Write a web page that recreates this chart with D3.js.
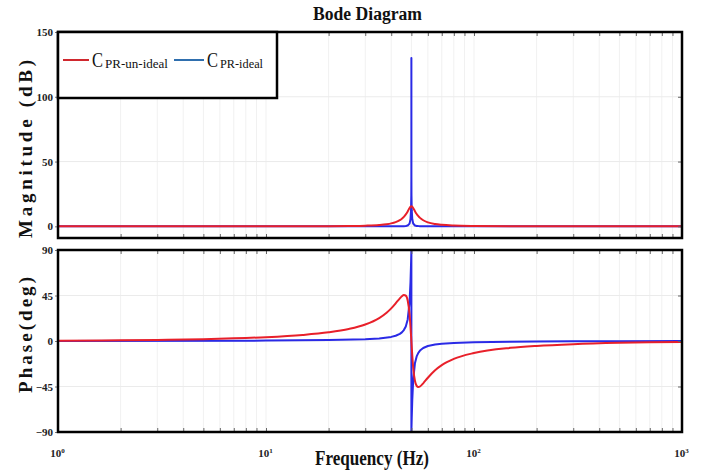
<!DOCTYPE html>
<html><head><meta charset="utf-8">
<script src="https://cdn.jsdelivr.net/npm/d3@7"></script>
<style>body{margin:0;background:#fff}svg{display:block}</style>
</head><body><svg id="c" width="701" height="473"></svg>
<script>
// ---- data ----
const freqRed = [1,2,3,5,7,10,15,20,25,30,35,38,40,42,44,45,46,47,48,49,49.5,50,50.5,51,52,53,54,55,57,60,65,70,80,100,150,200,300,500,700,1000];
const magRed = [0,0,0,0.01,0.01,0.03,0.06,0.14,0.27,0.51,1.02,1.62,2.27,3.26,4.82,5.93,7.36,9.20,11.53,14.14,15.16,15.56,15.17,14.19,11.73,9.56,7.86,6.53,4.68,3.06,1.75,1.14,0.60,0.26,0.07,0.04,0.02,0.01,0,0];
const phaseRed = [0.37,0.73,1.10,1.84,2.60,3.79,5.97,8.57,11.86,16.29,22.67,27.96,32.27,37.17,42.18,44.29,45.52,44.83,40.0,26.37,14.51,0,-14.37,-25.97,-39.34,-44.39,-45.59,-45.0,-41.85,-36.32,-28.90,-23.82,-17.66,-11.86,-6.78,-4.84,-3.12,-1.84,-1.31,-0.91];
const freqBlue = [1,10,20,30,35,40,42,44,45,46,47,48,49,49.5,49.8,49.95,49.99,50,50,50.01,50.05,50.2,50.5,51,52,53,54,55,57,60,65,70,80,100,150,200,300,500,1000];
const magBlue = [0,0,0,0,0.01,0.02,0.04,0.07,0.10,0.15,0.28,0.61,2.10,5.45,12.25,24.05,38.0,130,130,38.0,24.06,12.3,5.51,2.16,0.66,0.31,0.18,0.12,0.06,0.03,0.02,0.01,0,0,0,0,0,0,0];
const phaseBlue = [0.04,0.38,0.87,1.71,2.50,4.05,5.19,7.08,8.57,10.79,14.42,21.29,38.23,57.73,75.87,86.40,89.28,90,-90,-89.28,-86.41,-75.92,-57.98,-38.79,-22.08,-15.27,-11.67,-9.47,-6.91,-4.96,-3.43,-2.66,-1.87,-1.22,-0.68,-0.49,-0.31,-0.18,-0.09];
const magTicks = [0,50,100,150];
const phaseTicks = [-90,-45,0,45,90];
const freqTicks = [1,10,100,1000];
const freqTickExp = ["0","1","2","3"];
const seriesNames = ["PR-un-ideal","PR-ideal"];
const seriesColors = ["#e8202a","#2a2ae6"];
const legendColors = ["#d0282e","#2f6fae"];
const titleText = "Bode Diagram";
const xLabel = "Frequency (Hz)";
const yLabelMag = "Magnitude (dB)";
const yLabelPh = "Phase(deg)";

// ---- drawing ----
const svg = d3.select("#c");
const serif = "'Liberation Serif','DejaVu Serif',serif";
const L = 58, R = 682;
const x = d3.scaleLog().domain([1,1000]).range([L,R]);
const yMag = d3.scaleLinear().domain([-9,150]).range([238,32]);
const yPh = d3.scaleLinear().domain([-90,90]).range([432,250]);

const minor = [];
for (let d=1; d<1000; d*=10) for (let k=1;k<10;k++) minor.push(d*k);
minor.push(1000);

function panel(id, y, ticks, series){
  const top = y.range()[1], bot = y.range()[0];
  const g = svg.append("g");
  g.selectAll(".vg").data(minor).join("line")
    .attr("x1",d=>x(d)).attr("x2",d=>x(d)).attr("y1",top).attr("y2",bot)
    .attr("stroke","#f1f1f1").attr("stroke-width",1);
  g.selectAll(".hg").data(ticks).join("line")
    .attr("x1",L).attr("x2",R).attr("y1",d=>y(d)).attr("y2",d=>y(d))
    .attr("stroke","#ebebeb").attr("stroke-width",1);
  svg.append("clipPath").attr("id",id).append("rect")
    .attr("x",L).attr("y",top).attr("width",R-L).attr("height",bot-top);
  const cg = svg.append("g").attr("clip-path",`url(#${id})`);
  series.forEach(s=>{
    const line = d3.line().x((d,i)=>x(s.f[i])).y(d=>y(d)).curve(s.curve);
    cg.append("path").attr("d",line(s.v)).attr("fill","none")
      .attr("stroke",s.c).attr("stroke-width",2).attr("stroke-linejoin","round");
  });
  svg.append("g").attr("transform",`translate(0,${top})`)
    .call(d3.axisTop(x).tickValues(minor).tickSize(-4).tickFormat(""))
    .call(a=>a.select(".domain").remove()).selectAll("line").attr("stroke","#666");
  svg.append("g").attr("transform",`translate(0,${bot})`)
    .call(d3.axisBottom(x).tickValues(minor).tickSize(-4).tickFormat(""))
    .call(a=>a.select(".domain").remove()).selectAll("line").attr("stroke","#666");
  svg.append("g").attr("transform",`translate(${R},0)`)
    .call(d3.axisRight(y).tickValues(ticks).tickSize(-4).tickFormat(""))
    .call(a=>a.select(".domain").remove()).selectAll("line").attr("stroke","#666");
  const ay = svg.append("g").attr("transform",`translate(${L},0)`)
    .call(d3.axisLeft(y).tickValues(ticks).tickSize(3).tickPadding(2));
  ay.select(".domain").remove();
  ay.selectAll("line").attr("stroke","#777");
  ay.selectAll("text").attr("font-family",serif).attr("font-weight","bold")
    .attr("font-size",11).attr("fill","#222");
  svg.append("rect").attr("x",L).attr("y",top).attr("width",R-L).attr("height",bot-top)
    .attr("fill","none").attr("stroke","#000").attr("stroke-width",2.5);
}

panel("cm", yMag, magTicks, [
  {f:freqBlue, v:magBlue, c:seriesColors[1], curve:d3.curveLinear},
  {f:freqRed, v:magRed, c:seriesColors[0], curve:d3.curveMonotoneX}
]);
panel("cp", yPh, phaseTicks, [
  {f:freqBlue, v:phaseBlue, c:seriesColors[1], curve:d3.curveLinear},
  {f:freqRed, v:phaseRed, c:seriesColors[0], curve:d3.curveMonotoneX}
]);

// x tick labels
const ax = svg.append("g").attr("transform",`translate(0,${432})`)
  .call(d3.axisBottom(x).tickValues(freqTicks).tickSize(0).tickFormat(""));
ax.select(".domain").remove();
ax.selectAll(".tick").each(function(d,i){
  const t = d3.select(this).append("text").attr("y",25).attr("x",-1)
    .attr("text-anchor","middle").attr("fill","#222")
    .attr("font-family",serif).attr("font-weight","bold").attr("font-size",11);
  t.append("tspan").text("10");
  t.append("tspan").attr("font-size",7).attr("dy",-4).text(freqTickExp[i]);
});

// legend
svg.append("rect").attr("x",L).attr("y",32).attr("width",219).attr("height",66)
  .attr("fill","#fff").attr("stroke","#000").attr("stroke-width",2.5);
const leg = [
  {x1:63,x2:89,cx:92,sx:105,sl:63,name:seriesNames[0],c:legendColors[0]},
  {x1:174,x2:204,cx:207,sx:220,sl:43,name:seriesNames[1],c:legendColors[1]}
];
leg.forEach(e=>{
  svg.append("line").attr("x1",e.x1).attr("x2",e.x2).attr("y1",60).attr("y2",60)
    .attr("stroke",e.c).attr("stroke-width",2);
  svg.append("text").attr("x",e.cx).attr("y",67).attr("font-family",serif)
    .attr("font-size",22).attr("textLength",11).attr("lengthAdjust","spacingAndGlyphs")
    .attr("fill","#111").text("C");
  svg.append("text").attr("x",e.sx).attr("y",68).attr("font-family",serif)
    .attr("font-size",12).attr("textLength",e.sl).attr("lengthAdjust","spacingAndGlyphs")
    .attr("fill","#111").text(e.name);
});

// titles
svg.append("text").attr("x",313).attr("y",20).attr("font-family",serif)
  .attr("font-weight","bold").attr("font-size",18).attr("textLength",109)
  .attr("lengthAdjust","spacingAndGlyphs").attr("fill","#111").text(titleText);
svg.append("text").attr("x",315).attr("y",465).attr("font-family",serif)
  .attr("font-weight","bold").attr("font-size",21).attr("textLength",114)
  .attr("lengthAdjust","spacingAndGlyphs").attr("fill","#111").text(xLabel);
svg.append("text").attr("transform","translate(32,149) rotate(-90)")
  .attr("text-anchor","middle").attr("font-family",serif).attr("font-weight","bold")
  .attr("font-size",19).attr("textLength",178).attr("lengthAdjust","spacing")
  .attr("fill","#111").text(yLabelMag);
svg.append("text").attr("transform","translate(32,335) rotate(-90)")
  .attr("text-anchor","middle").attr("font-family",serif).attr("font-weight","bold")
  .attr("font-size",19).attr("textLength",116).attr("lengthAdjust","spacing")
  .attr("fill","#111").text(yLabelPh);
</script></body></html>
